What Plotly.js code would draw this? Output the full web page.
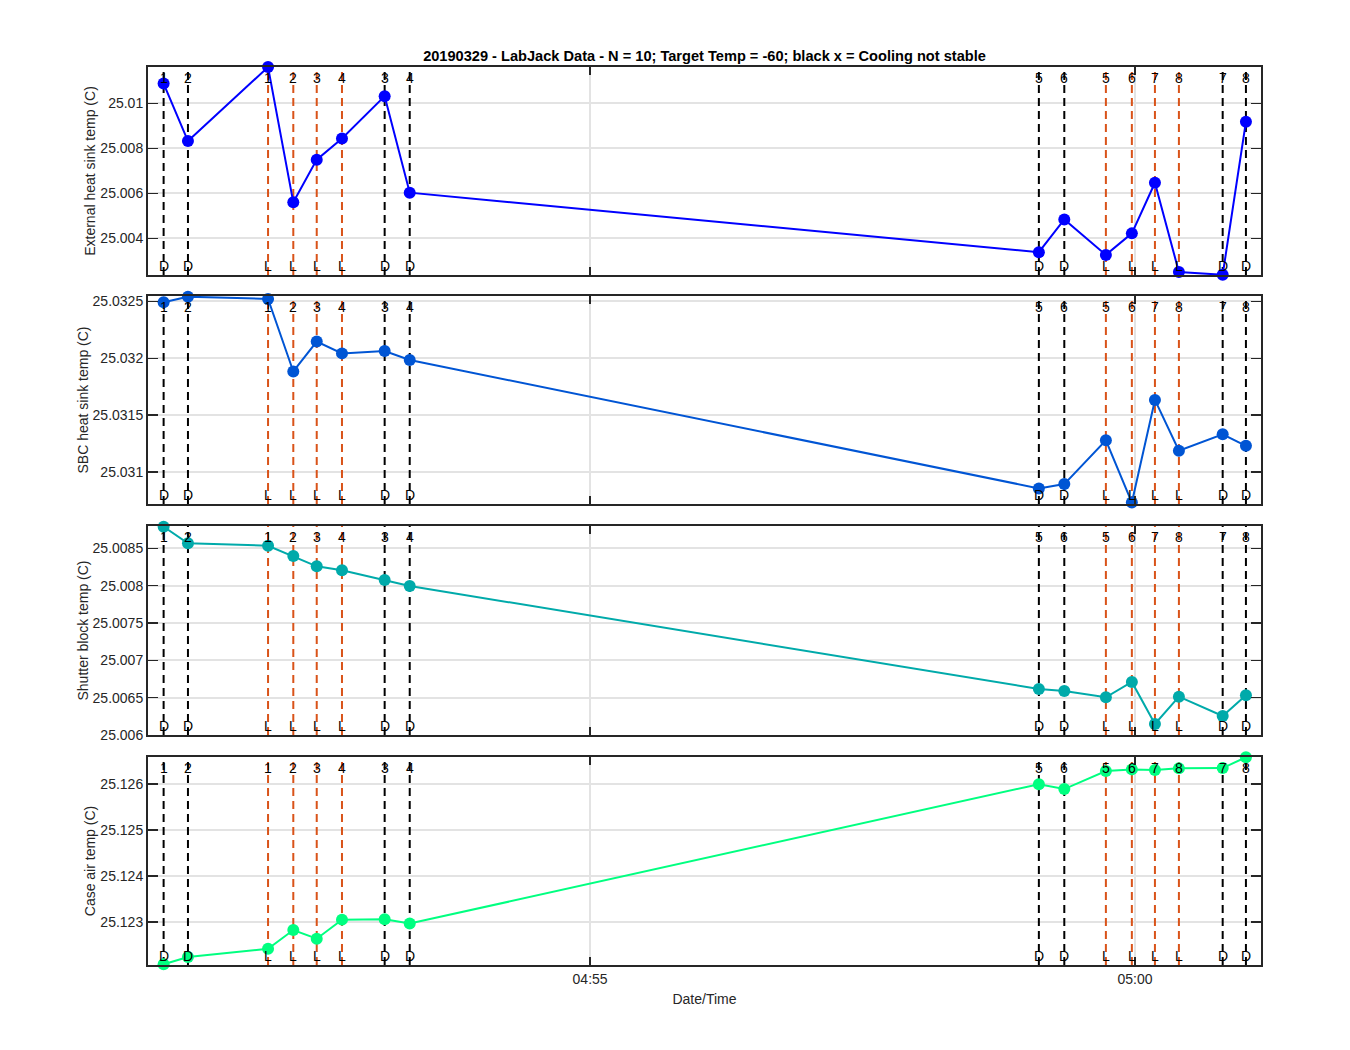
<!DOCTYPE html>
<html>
<head>
<meta charset="utf-8">
<script src="https://cdn.plot.ly/plotly-3.0.1.min.js"></script>
<style>html,body{margin:0;padding:0;background:#fff;}#chart{width:1350px;height:1050px;}</style>
</head>
<body>
<div id="chart"></div>
<script>
// ---- data ----
const eventTimes = [
  '2019-03-29 04:51:05.2','2019-03-29 04:51:18.6','2019-03-29 04:52:02.7','2019-03-29 04:52:16.6',
  '2019-03-29 04:52:29.5','2019-03-29 04:52:43.4','2019-03-29 04:53:06.9','2019-03-29 04:53:20.7',
  '2019-03-29 04:59:07.1','2019-03-29 04:59:21.1','2019-03-29 04:59:44.0','2019-03-29 04:59:58.3',
  '2019-03-29 05:00:11.0','2019-03-29 05:00:24.2','2019-03-29 05:00:48.3','2019-03-29 05:01:01.1'
];
const eventType = ['D','D','L','L','L','L','D','D','D','D','L','L','L','L','D','D'];
const eventNum  = ['1','2','1','2','3','4','3','4','5','6','5','6','7','8','7','8'];

const extHeatSink = [25.010882,25.008324,25.011614,25.005602,25.007499,25.008438,25.010322,25.006030,
                     25.003383,25.004839,25.003264,25.004221,25.006471,25.002501,25.002382,25.009188];
const sbcHeatSink = [25.032492,25.032541,25.032521,25.031884,25.032147,25.032043,25.032063,25.031985,
                     25.030857,25.030895,25.031280,25.030733,25.031634,25.031188,25.031332,25.031231];
const shutterBlock = [25.008788,25.008566,25.008534,25.008396,25.008258,25.008205,25.008075,25.007995,
                      25.006616,25.006589,25.006505,25.006710,25.006147,25.006513,25.006254,25.006531];
const caseAir = [25.122085,25.122242,25.122421,25.122829,25.122642,25.123056,25.123064,25.122970,
                 25.126000,25.125893,25.126285,25.126321,25.126306,25.126343,25.126350,25.126585];

const yTitles = ['External heat sink temp (C)','SBC heat sink temp (C)','Shutter block temp (C)','Case air temp (C)'];
const yTickVals = [
  [25.004,25.006,25.008,25.010],
  [25.031,25.0315,25.032,25.0325],
  [25.006,25.0065,25.007,25.0075,25.008,25.0085],
  [25.123,25.124,25.125,25.126]
];
const yTickText = [
  ['25.004','25.006','25.008','25.01'],
  ['25.031','25.0315','25.032','25.0325'],
  ['25.006','25.0065','25.007','25.0075','25.008','25.0085'],
  ['25.123','25.124','25.125','25.126']
];
const xTickVals = ['2019-03-29 04:55:00','2019-03-29 05:00:00'];
const xTickText = ['04:55','05:00'];
const titleText = '20190329 - LabJack Data - N = 10; Target Temp = -60; black x = Cooling not stable';

// ---- style / layout ----
const series = [extHeatSink, sbcHeatSink, shutterBlock, caseAir];
const colors = ['#0000FF','#0055D4','#00AAAA','#00FF80'];
const yRanges = [[25.00237,25.011618],[25.03072,25.032547],[25.006,25.008798],[25.12207,25.12659]];
const xRange = ['2019-03-29 04:50:56.6','2019-03-29 05:01:09.4'];
const W=1350,H=1050, mT=67, mB=85, mL=148, mR=89;
const plotH = H-mT-mB;
const panelPx = [[67,275],[296,504],[526,735],[757,965]];
const FONT = 'Liberation Sans, Arial, Helvetica, sans-serif';
const AXC = '#262626';
const evColor = {D:'#000000', L:'#D95319'};

const lineTraces = [];
const dataTraces = [];
const layout = {
  width:W, height:H,
  margin:{l:mL, r:mR, t:mT, b:mB},
  paper_bgcolor:'#fff', plot_bgcolor:'#fff',
  showlegend:false,
  font:{family:FONT, size:14, color:AXC},
  title:{text:'<b>'+titleText+'</b>', font:{family:FONT,size:14.6,color:'#000'},
         x:0.5, xref:'paper', y:1-56/H, yref:'container', yanchor:'middle', xanchor:'center'},
  annotations:[]
};

for (let p=0; p<4; p++) {
  const sfx = p===0 ? '' : String(p+1);
  const xa = 'x'+sfx, ya = 'y'+sfx;
  const top = panelPx[p][0], bot = panelPx[p][1];
  layout['xaxis'+sfx] = {
    type:'date', range:xRange, domain:[0,1], anchor:ya,
    tickvals:xTickVals, ticktext:xTickText, showticklabels: p===3,
    ticks:'inside', ticklen:8, tickwidth:1.5, tickcolor:AXC,
    showline:true, linecolor:AXC, linewidth:2, mirror:'ticks',
    showgrid:true, gridcolor:'#e3e3e3', gridwidth:2, zeroline:false,
    tickfont:{family:FONT,size:14,color:AXC},
    title: p===3 ? {text:'Date/Time', font:{family:FONT,size:14,color:AXC}, standoff:8} : {text:''}
  };
  if (p>0) layout['xaxis'+sfx].matches = 'x';
  layout['yaxis'+sfx] = {
    range:yRanges[p], domain:[(965-bot)/plotH, (965-top)/plotH], anchor:xa,
    tickvals:yTickVals[p], ticktext:yTickText[p],
    ticks:'inside', ticklen:10, tickwidth:1.5, tickcolor:AXC,
    showline:true, linecolor:AXC, linewidth:2, mirror:'ticks',
    showgrid:true, gridcolor:'#e3e3e3', gridwidth:2, zeroline:false,
    tickfont:{family:FONT,size:14,color:AXC},
    title:{text:yTitles[p], font:{family:FONT,size:14,color:AXC}}
  };
  // vertical event lines (one trace per event type, segments separated by null)
  ['D','L'].forEach(function(tp){
    const xs=[], ys=[];
    for (let i=0; i<eventTimes.length; i++) {
      if (eventType[i]!==tp) continue;
      xs.push(eventTimes[i], eventTimes[i], null);
      ys.push(yRanges[p][0], yRanges[p][1], null);
    }
    lineTraces.push({type:'scatter', mode:'lines', x:xs, y:ys, xaxis:xa, yaxis:ya,
      line:{color:evColor[tp], width:2, dash:'8px,5px'}, hoverinfo:'skip', connectgaps:false});
  });
  for (let i=0; i<eventTimes.length; i++) {
    layout.annotations.push({xref:xa, yref:ya+' domain', x:eventTimes[i], y:1, yanchor:'top', xanchor:'center',
      yshift:-1, text:eventNum[i], showarrow:false, font:{family:FONT,size:14,color:'#000'}});
    layout.annotations.push({xref:xa, yref:ya+' domain', x:eventTimes[i], y:0, yanchor:'bottom', xanchor:'center',
      yshift:-1, text:eventType[i], showarrow:false, font:{family:FONT,size:14,color:'#000'}});
  }
  dataTraces.push({
    type:'scatter', mode:'lines+markers', x:eventTimes, y:series[p], xaxis:xa, yaxis:ya,
    line:{color:colors[p], width:2}, marker:{color:colors[p], size:12},
    cliponaxis:false, hoverinfo:'x+y'
  });
}

Plotly.newPlot('chart', lineTraces.concat(dataTraces), layout, {displayModeBar:false, staticPlot:true});
</script>
</body>
</html>
